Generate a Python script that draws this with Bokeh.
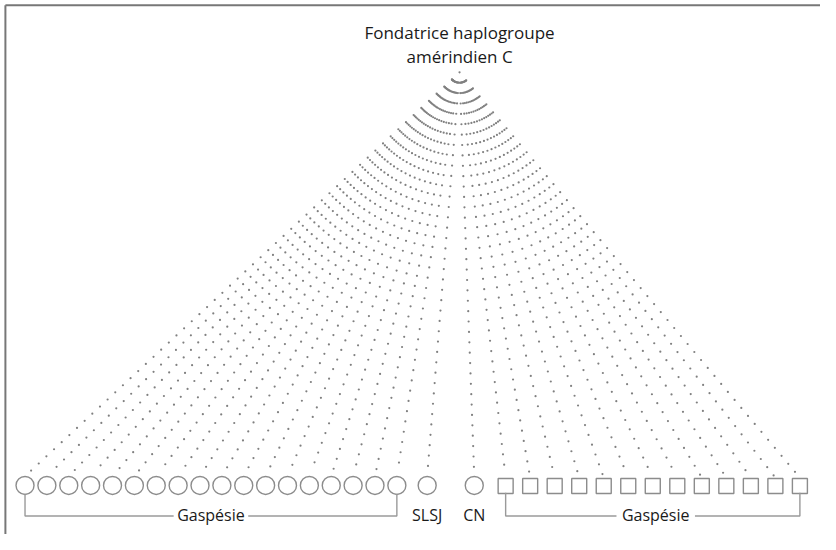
import numpy as np
from bokeh.plotting import figure
from bokeh.models import Range1d
from bokeh.core.properties import value
from bokeh.embed import file_html
from bokeh.resources import INLINE

# ---------------- data ----------------
title_lines = ["Fondatrice haplogroupe", "amérindien C"]
regions = (["Gaspésie"] * 18) + ["SLSJ", "CN"] + (["Gaspésie"] * 13)
sexes = (["F"] * 20) + (["M"] * 13)
generations = [56, 54, 53, 51, 50, 49, 47, 46, 45, 44, 43, 42, 41, 40, 40, 39, 39, 38,
               38, 38,
               38, 39, 39, 40, 41, 41, 42, 43, 45, 46, 47, 49, 50]
group_labels = ["Gaspésie", "SLSJ", "CN", "Gaspésie"]

# ---------------- layout ----------------
W, H = 820, 534
p = figure(width=W, height=H, output_backend="svg", toolbar_location=None,
           x_range=Range1d(0, 836), y_range=Range1d(550, 0),
           min_border=0, background_fill_color="white", border_fill_color="white")
p.axis.visible = False
p.grid.visible = False
p.outline_line_color = None

# x positions of individuals
xs = []
for i in range(18):
    xs.append(25 + 22.3 * i)
xs.append(435)   # SLSJ
xs.append(483)   # CN
for j in range(13):
    xs.append(515 + 25.0 * j)
xs = np.array(xs)
sym_y = 499.5
top_y = np.array([sym_y - 9.5 if s == "F" else sym_y - 8 for s in sexes])

# dots along each lineage
apex = np.array([468.0, 74.0])
step = 10.7
dx, dy = [apex[0]], [apex[1]]
for x, ty, n in zip(xs, top_y, generations):
    v = np.array([x, ty]) - apex
    u = v / np.linalg.norm(v)
    for k in range(1, n + 1):
        pt = apex + u * step * k
        dx.append(pt[0]); dy.append(pt[1])
p.scatter(dx, dy, marker="circle", size=2.2, fill_color="#808080",
          line_color=None)

# symbols
fx = [x for x, s in zip(xs, sexes) if s == "F"]
mx = [x for x, s in zip(xs, sexes) if s == "M"]
p.scatter(fx, [sym_y] * len(fx), marker="circle", size=18, fill_color="white",
          line_color="#8c8c8c", line_width=1.4)
p.scatter(mx, [sym_y + 0.5] * len(mx), marker="square", size=15, fill_color="white",
          line_color="#8c8c8c", line_width=1.4)

# brackets
by = 531
lx0, lx1 = xs[0], xs[17]
rx0, rx1 = xs[20], xs[-1]
lc = (lx0 + lx1) / 2
rc = (rx0 + rx1) / 2 + 3
half = 38
p.multi_line(
    xs=[[lx0, lx0, lc - half], [lc + half, lx1, lx1],
        [rx0, rx0, rc - half - 2], [rc + half + 2, rx1, rx1]],
    ys=[[508, by, by], [by, by, 508], [507, by, by], [by, by, 507]],
    line_color="#9a9a9a", line_width=1.4)

# frame (top and left)
p.multi_line(xs=[[5, 5], [5, 836]], ys=[[550, 5], [5, 5]],
             line_color="#777777", line_width=2)

# labels
lab_x = [lc, xs[18], xs[19], rc]
p.text(x=lab_x, y=[530] * 4, text=group_labels, text_align="center",
       text_baseline="middle", text_font=value("Open Sans"),
       text_font_size="16px", text_color="#1a1a1a")
p.text(x=[468, 468], y=[33, 58], text=title_lines, text_align="center",
       text_baseline="middle", text_font=value("Open Sans"),
       text_font_size="17px", text_color="#1a1a1a")

open("out.html", "w").write(file_html(p, INLINE))
